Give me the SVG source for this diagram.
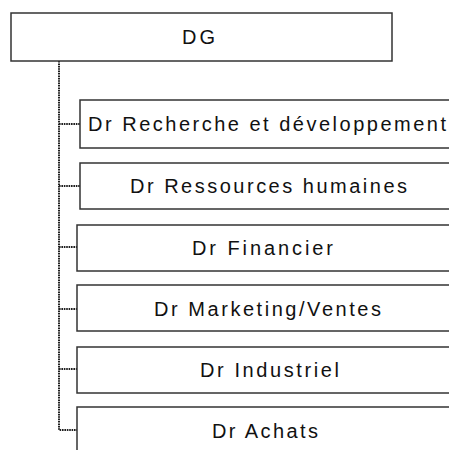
<svg xmlns="http://www.w3.org/2000/svg" width="449" height="450" viewBox="0 0 449 450">
  <style>
    .box { fill: #ffffff; stroke: #333333; stroke-width: 1.5; }
    .lbl { font-family: "Liberation Sans", Arial, sans-serif; font-size: 20px; fill: #111111; }
    .conn { fill: none; stroke: #1e1e1e; stroke-width: 2; stroke-dasharray: 1.6 0.8; }
  </style>
  <rect width="449" height="450" fill="#ffffff"/>
  <g id="connectors">
    <path class="conn" d="M59,61 V430 H78"/>
    <path class="conn" d="M59,124 H80"/>
    <path class="conn" d="M59,186 H80"/>
    <path class="conn" d="M59,247 H77"/>
    <path class="conn" d="M59,309 H77"/>
    <path class="conn" d="M59,369 H77"/>
  </g>
  <g id="dg">
    <rect class="box" x="11" y="13" width="381" height="48"/>
    <text class="lbl" x="182" y="44" textLength="33" lengthAdjust="spacing">DG</text>
  </g>
  <g id="dr-rd">
    <rect class="box" x="80" y="100" width="400" height="48"/>
    <text class="lbl" x="88" y="131" textLength="358" lengthAdjust="spacing">Dr Recherche et développement</text>
  </g>
  <g id="dr-rh">
    <rect class="box" x="80" y="163" width="400" height="46"/>
    <text class="lbl" x="130" y="193" textLength="277" lengthAdjust="spacing">Dr Ressources humaines</text>
  </g>
  <g id="dr-fin">
    <rect class="box" x="77" y="225" width="400" height="46"/>
    <text class="lbl" x="192" y="255" textLength="141" lengthAdjust="spacing">Dr Financier</text>
  </g>
  <g id="dr-mkt">
    <rect class="box" x="77" y="285" width="400" height="46"/>
    <text class="lbl" x="154" y="316" textLength="227" lengthAdjust="spacing">Dr Marketing/Ventes</text>
  </g>
  <g id="dr-ind">
    <rect class="box" x="77" y="347" width="400" height="46"/>
    <text class="lbl" x="200" y="377" textLength="139" lengthAdjust="spacing">Dr Industriel</text>
  </g>
  <g id="dr-ach">
    <rect class="box" x="77" y="407" width="400" height="60"/>
    <text class="lbl" x="212" y="438" textLength="106" lengthAdjust="spacing">Dr Achats</text>
  </g>
</svg>
